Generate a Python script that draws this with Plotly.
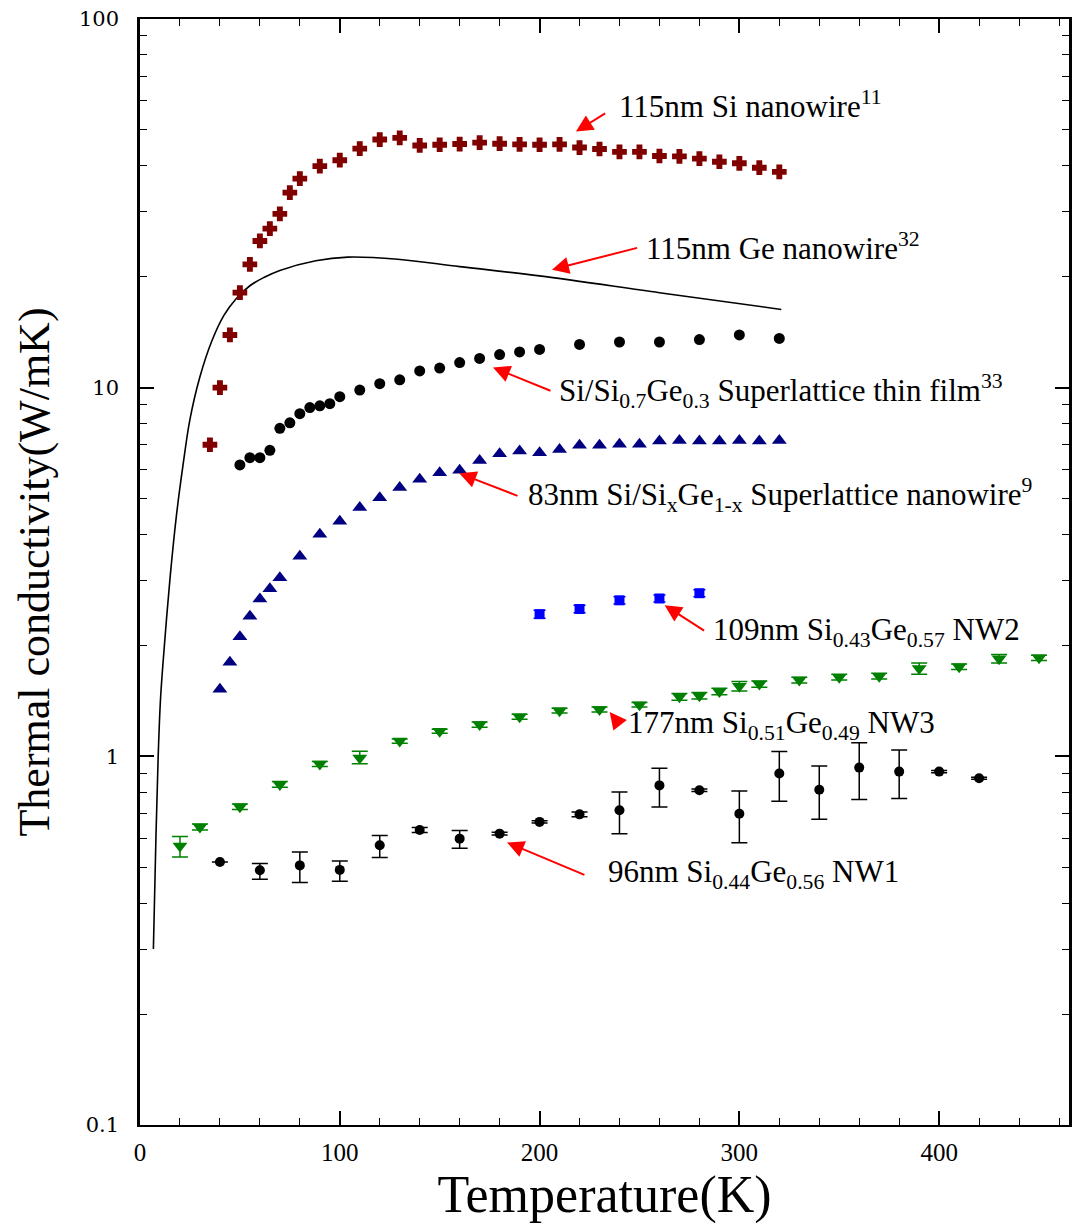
import math
import plotly.graph_objects as go

# ---------------- data ----------------
si_T = [35, 40, 45, 50, 55, 60, 65, 70, 75, 80, 90, 100, 110, 120, 130, 140, 150, 160,
        170, 180, 190, 200, 210, 220, 230, 240, 250, 260, 270, 280, 290, 300, 310, 320]
si_k = [7.0, 10.0, 13.9, 18.1, 21.6, 25.0, 27.0, 29.6, 33.8, 36.9, 39.9, 41.4, 44.5, 47.1,
        47.6, 45.4, 45.6, 45.8, 46.2, 45.9, 45.7, 45.6, 45.7, 44.8, 44.4, 43.6, 43.6, 42.5,
        42.4, 41.8, 41.0, 40.6, 39.5, 38.5]

ge_T = [6.7, 8, 9.1, 10.3, 12.5, 15, 18.3, 21.6, 25, 30, 36, 42, 48, 55, 62, 70, 88, 104, 129,
        160, 200, 260, 321]
ge_k = [0.30, 0.61, 1.0, 1.44, 2.09, 3.03, 4.53, 6.2, 8.2, 10.7, 13.4, 15.7, 17.4, 18.9,
        19.9, 20.8, 22.1, 22.6, 22.3, 21.3, 20.1, 18.1, 16.3]

film_T = [50, 55, 60, 65, 70, 75, 80, 85, 90, 95, 100, 110, 120, 130, 140, 150, 160, 170,
          180, 190, 200, 220, 240, 260, 280, 300, 320]
film_k = [6.17, 6.46, 6.46, 6.76, 7.76, 8.03, 8.50, 8.83, 8.93, 9.05, 9.45, 9.85, 10.25,
          10.5, 11.1, 11.3, 11.7, 12.0, 12.3, 12.5, 12.7, 13.1, 13.3, 13.3, 13.5, 13.9, 13.6]

slnw_T = [40, 45, 50, 55, 60, 65, 70, 80, 90, 100, 110, 120, 130, 140, 150, 160, 170, 180,
          190, 200, 210, 220, 230, 240, 250, 260, 270, 280, 290, 300, 310, 320]
slnw_k = [1.52, 1.80, 2.11, 2.40, 2.67, 2.85, 3.05, 3.49, 4.0, 4.34, 4.73, 5.03, 5.36, 5.64,
          5.88, 5.97, 6.35, 6.62, 6.73, 6.66, 6.80, 6.98, 6.98, 7.02, 7.02, 7.17, 7.19, 7.17,
          7.17, 7.19, 7.17, 7.19]

nw2_T = [200, 220, 240, 260, 280]
nw2_k = [2.43, 2.51, 2.65, 2.68, 2.77]
nw2_err = [0.06, 0.06, 0.06, 0.06, 0.06]

nw3_T = [20, 30, 50, 70, 90, 110, 130, 150, 170, 190, 210, 230, 250, 270, 280, 290, 300,
         310, 330, 350, 370, 390, 410, 430, 450]
nw3_k = [0.571, 0.643, 0.730, 0.839, 0.953, 0.99, 1.10, 1.17, 1.22, 1.28, 1.33, 1.34, 1.38,
         1.45, 1.46, 1.50, 1.55, 1.57, 1.61, 1.64, 1.65, 1.73, 1.75, 1.84, 1.85]
nw3_err_up = [0.035, 0.012, 0.012, 0.015, 0.015, 0.043, 0.015, 0.015, 0.02, 0.02, 0.02,
              0.02, 0.02, 0.03, 0.03, 0.03, 0.045, 0.03, 0.03, 0.03, 0.03, 0.06, 0.03, 0.05, 0.03]
nw3_err_dn = [0.038, 0.012, 0.012, 0.015, 0.015, 0.035, 0.015, 0.015, 0.02, 0.02, 0.02,
              0.02, 0.02, 0.03, 0.03, 0.03, 0.045, 0.03, 0.03, 0.03, 0.03, 0.06, 0.03, 0.05, 0.03]

nw1_T = [40, 60, 80, 100, 120, 140, 160, 180, 200, 220, 240, 260, 280, 300, 320, 340, 360,
         380, 400, 420]
nw1_k = [0.517, 0.491, 0.506, 0.492, 0.574, 0.631, 0.598, 0.617, 0.664, 0.696, 0.714, 0.834,
         0.809, 0.699, 0.898, 0.812, 0.932, 0.909, 0.909, 0.872]
nw1_err_up = [0, 0.021, 0.044, 0.028, 0.036, 0.01, 0.031, 0.005, 0.005, 0.01, 0.086, 0.094,
              0.006, 0.106, 0.132, 0.129, 0.157, 0.131, 0.006, 0.005]
nw1_err_dn = [0, 0.027, 0.051, 0.034, 0.042, 0.01, 0.035, 0.005, 0.005, 0.01, 0.097, 0.105,
              0.006, 0.116, 0.143, 0.137, 0.168, 0.141, 0.006, 0.005]

# label texts and their anchor points (T, k) ; arrow tip and tail points (T, k)
labels = [
    "115nm Si nanowire<sup>11</sup>",
    "115nm Ge nanowire<sup>32</sup>",
    "Si/Si<sub>0.7</sub>Ge<sub>0.3</sub> Superlattice thin film<sup>33</sup>",
    "83nm Si/Si<sub>x</sub>Ge<sub>1-x</sub> Superlattice nanowire<sup>9</sup>",
    "109nm Si<sub>0.43</sub>Ge<sub>0.57</sub> NW2",
    "177nm Si<sub>0.51</sub>Ge<sub>0.49</sub> NW3",
    "96nm Si<sub>0.44</sub>Ge<sub>0.56</sub> NW1",
]
label_T = [238.6, 252.1, 208.7, 193.2, 285.6, 243.1, 233.1]
label_k = [58.6, 24.2, 9.77, 5.1, 2.18, 1.22, 0.479]
tip_T = [218.2, 206.2, 176.7, 159.8, 262.6, 235.1, 183.7]
tip_k = [49.5, 20.9, 11.35, 5.86, 2.57, 1.32, 0.584]
tail_T = [233.6, 249.6, 206.2, 189.7, 283.1, 239.0, 223.2]
tail_k = [55.8, 24.0, 9.77, 5.07, 2.18, 1.24, 0.475]

x_major = [0, 100, 200, 300, 400]
y_major = [0.1, 1, 10, 100]
y_major_text = ["0.1", "1", "10", "100"]

# ---------------- figure ----------------
fig = go.Figure()

fig.add_trace(go.Scatter(x=ge_T, y=ge_k, mode="lines",
                         line=dict(color="black", width=1.6, shape="spline", smoothing=1.0),
                         showlegend=False, hoverinfo="skip"))
fig.add_trace(go.Scatter(x=si_T, y=si_k, mode="markers",
                         marker=dict(symbol="cross", size=11, color="#800000",
                                     line=dict(color="#800000", width=1.5)), showlegend=False))
fig.add_trace(go.Scatter(x=film_T, y=film_k, mode="markers",
                         marker=dict(symbol="circle", size=11, color="black"), showlegend=False))
fig.add_trace(go.Scatter(x=slnw_T, y=slnw_k, mode="markers",
                         marker=dict(symbol="triangle-up", size=13, color="#000080"), showlegend=False))
fig.add_trace(go.Scatter(x=nw2_T, y=nw2_k, mode="markers",
                         marker=dict(symbol="square", size=10, color="#0000FF"),
                         error_y=dict(type="data", array=nw2_err, color="#0000FF", thickness=1.5, width=6),
                         showlegend=False))
fig.add_trace(go.Scatter(x=nw3_T, y=nw3_k, mode="markers",
                         marker=dict(symbol="triangle-down", size=13, color="#008000"),
                         error_y=dict(type="data", array=nw3_err_up, arrayminus=nw3_err_dn,
                                      color="#008000", thickness=1.5, width=8),
                         showlegend=False))
fig.add_trace(go.Scatter(x=nw1_T, y=nw1_k, mode="markers",
                         marker=dict(symbol="circle", size=10, color="black"),
                         error_y=dict(type="data", array=nw1_err_up, arrayminus=nw1_err_dn,
                                      color="black", thickness=1.5, width=8),
                         showlegend=False))

annotations = []
for txt, lx, ly in zip(labels, label_T, label_k):
    annotations.append(dict(x=lx, y=math.log10(ly), xref="x", yref="y", text=txt, showarrow=False,
                            xanchor="left", yanchor="middle",
                            font=dict(family="Liberation Serif", size=31, color="black")))
for tx, ty, sx, sy in zip(tip_T, tip_k, tail_T, tail_k):
    annotations.append(dict(x=tx, y=math.log10(ty), ax=sx, ay=math.log10(sy), xref="x", yref="y",
                            axref="x", ayref="y", text="", showarrow=True, arrowhead=2,
                            arrowsize=1.7, arrowwidth=2, arrowcolor="#FF0000"))

fig.update_layout(
    width=1072, height=1224,
    margin=dict(l=140, r=0, t=19, b=99),
    paper_bgcolor="white", plot_bgcolor="white",
    annotations=annotations,
    font=dict(family="Liberation Serif", color="black"),
)

fig.update_xaxes(
    range=[0, 465], showgrid=False, zeroline=False,
    showline=True, linecolor="black", linewidth=2, mirror="ticks",
    ticks="inside", ticklen=14, tickwidth=2, tickcolor="black",
    tickvals=x_major, ticktext=[str(v) for v in x_major],
    tickfont=dict(family="Liberation Serif", size=25, color="black"),
    ticklabelstandoff=4,
    minor=dict(ticks="inside", ticklen=7, tickwidth=1, tickcolor="black", dtick=20, showgrid=False),
    title=dict(text="Temperature(K)", font=dict(family="Liberation Serif", size=52, color="black"), standoff=14),
)
fig.update_yaxes(
    type="log", range=[-1, 2], showgrid=False, zeroline=False,
    showline=True, linecolor="black", linewidth=2.5, mirror="ticks",
    ticks="inside", ticklen=14, tickwidth=2, tickcolor="black",
    tickvals=y_major, ticktext=y_major_text,
    tickfont=dict(family="DejaVu Serif", size=21, color="black"),
    ticklabelstandoff=14,
    minor=dict(ticks="inside", ticklen=7, tickwidth=1, tickcolor="black", showgrid=False,
               tickvals=[m * d for d in (0.1, 1, 10) for m in range(2, 10)]),
    title=dict(text="Thermal conductivity(W/mK)", font=dict(family="Liberation Serif", size=44, color="black"), standoff=16),
)

fig.write_html("out.html")
